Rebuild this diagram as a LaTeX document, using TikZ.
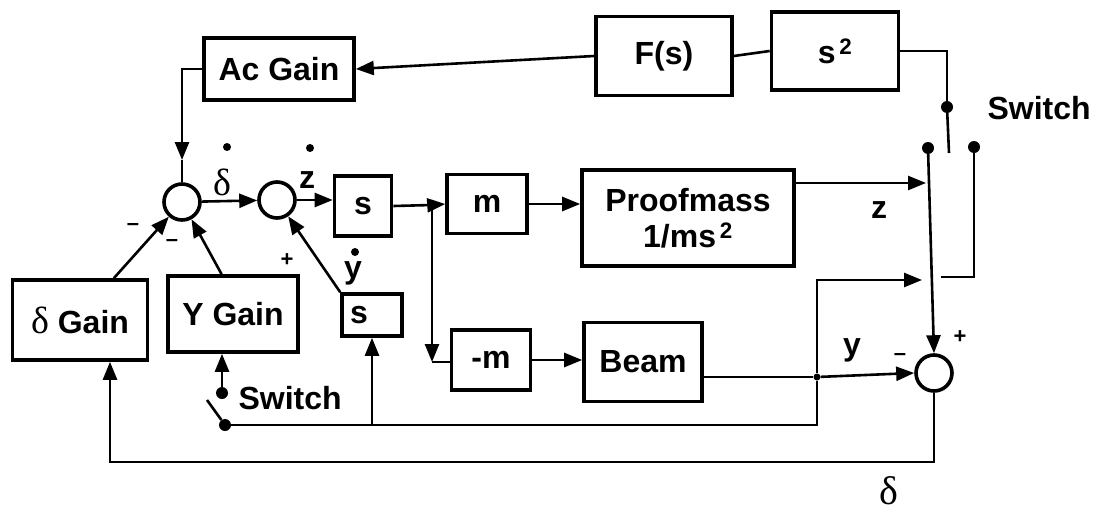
\documentclass[tikz,border=0pt]{standalone}
\usepackage{fontspec}
\setmainfont{Liberation Sans}
\newfontfamily\grkfont{Liberation Serif}
\usepackage{tikz}
\usetikzlibrary{arrows.meta, positioning}

\newcommand{\dlt}{{\grkfont\mdseries δ}}

\begin{document}
\begin{tikzpicture}[
    x=1pt, y=-1pt,
    every node/.style={font=\fontsize{32}{36}\selectfont\bfseries},
    block/.style={draw, line width=3.6pt, inner sep=0pt},
    sum/.style={draw, circle, line width=3.6pt, minimum size=36pt, inner sep=0pt},
    wire/.style={line width=2.6pt},
    arr/.style={wire, -{Triangle[length=18pt,width=14pt]}},
    contact/.style={circle, fill, minimum size=12pt, inner sep=0pt},
    dotmark/.style={circle, fill, minimum size=8pt, inner sep=0pt},
    sgn/.style={font=\fontsize{22}{22}\selectfont\bfseries, inner sep=0pt}
]
    \useasboundingbox (0,0) rectangle (1106,514);

    % blocks
    \node[block, minimum width=150pt, minimum height=62pt] (acg) at (279,69) {Ac Gain};
    \node[block, minimum width=136pt, minimum height=79pt] (fs) at (664,56) {F(s)};
    \node[block, minimum width=127pt, minimum height=78pt] (ssq) at (835,51) {s\textsuperscript{\,2}};
    \node[block, minimum width=57pt, minimum height=60pt] (s1) at (363,206) {s};
    \node[block, minimum width=60pt, minimum height=42pt, text width=44pt, inner xsep=8pt] (s2) at (372,315) {s};
    \node[block, minimum width=135pt, minimum height=80pt] (dg) at (80,320) {{\fontsize{38}{38}\selectfont\dlt} Gain};
    \node[block, minimum width=130pt, minimum height=76pt] (yg) at (233,314) {Y Gain};
    \node[block, minimum width=80pt, minimum height=59pt] (m) at (487,204) {m};
    \node[block, minimum width=79pt, minimum height=60pt] (nm) at (491,360) {-m};
    \node[block, minimum width=212pt, minimum height=96pt, align=center] (pm) at (688,218) {Proofmass\\1/ms\textsuperscript{\,2}};
    \node[block, minimum width=118pt, minimum height=79pt] (bm) at (643,362) {Beam};

    % summing junctions
    \node[sum] (sa) at (182,202) {};
    \node[sum] (sb) at (277,200) {};
    \node[sum] (sc) at (934,373) {};

    % switches and branch points
    \node[contact] (sw1) at (947,107) {};
    \node[contact] (swl) at (928,148) {};
    \node[contact] (swr) at (974,147) {};
    \node[contact] (sw2) at (225,425) {};
    \node[contact] (sw3) at (222,393) {};
    \node[dotmark, minimum size=7pt] (yj) at (817,377) {};
    \coordinate (sw1e) at (949,153);
    \coordinate (sw2e) at (207,400);
    \coordinate (acin) at (182,160);
    \coordinate (br) at (432,205);
    \coordinate (nmc) at (432,362);
    \coordinate (zin) at (926,183);
    \coordinate (ytip) at (922,280);
    \coordinate (ybrk) at (941,277);
    \coordinate (fbl) at (110,462);

    % connections
    \draw[arr] (fs.west) -- (acg.east);
    \draw[wire] (ssq.west) -- (fs.east);
    \draw[wire] (ssq.east) -| (sw1);
    \draw[wire] (sw1) -- (sw1e);
    \draw[arr] (acg.west) -| (acin);
    \draw[wire] (acin) -- (sa.north);
    \draw[arr] (sa) -- (sb);
    \draw[arr] (sb.east) -- (sb.east -| s1.west);
    \draw[wire] (s1.east) -- (br);
    \draw[arr] (br) -- (m.west);
    \draw[arr] (br) -- (nmc);
    \draw[wire] (nmc) -- (nm.west |- nmc);
    \draw[arr] (m.east) -- (m.east -| pm.west);
    \draw[arr] (nm.east) -- (nm.east -| bm.west);
    \draw[arr] (pm.east |- zin) -- (zin);
    \draw[arr] (swl) -- (sc.north);
    \draw[wire] (bm.east |- yj) -- (yj);
    \draw[arr] (yj) -- (sc.west);
    \draw[arr] (yj) |- (ytip);
    \draw[wire] (swr) |- (ybrk);
    \draw[wire] (yj) |- (sw2);
    \draw[arr] (s2.south |- sw2) -- (s2.south);
    \draw[wire] (sw2) -- (sw2e);
    \draw[arr] (sw3) -- (sw3 |- yg.south);
    \draw[arr] (sc.south) |- (fbl) -- (fbl |- dg.south);
    \draw[arr] (dg.51) -- (sa);
    \draw[arr] (yg.106) -- (sa);
    \draw[arr] (s2.north west) -- (sb);

    % signs
    \node[sgn] (ma) at (133,227) {–};
    \node[sgn] (mb) at (172,243) {–};
    \node[sgn] (pa) at (287,260) {+};
    \node[sgn] (mc) at (900,357) {–};
    \node[sgn] (pb) at (960,337) {+};

    % signal labels
    \node (dl) at (222,182) {\fontsize{38}{38}\selectfont\dlt};
    \node[dotmark] (dld) at (227,147) {};
    \node (zl) at (307,180) {z};
    \node[dotmark] (zld) at (310,148) {};
    \node (yl) at (353,273) {y};
    \node[dotmark] (yld) at (355,252) {};
    \node (zo) at (879,210) {z};
    \node (yo) at (852,350) {y};
    \node[inner sep=0pt] (dlo) at (889,491) {\fontsize{40}{40}\selectfont\dlt};
    \node[anchor=west] (swt1) at (984,108) {Switch};
    \node[anchor=west] (swt2) at (235,398) {Switch};
\end{tikzpicture}
\end{document}
